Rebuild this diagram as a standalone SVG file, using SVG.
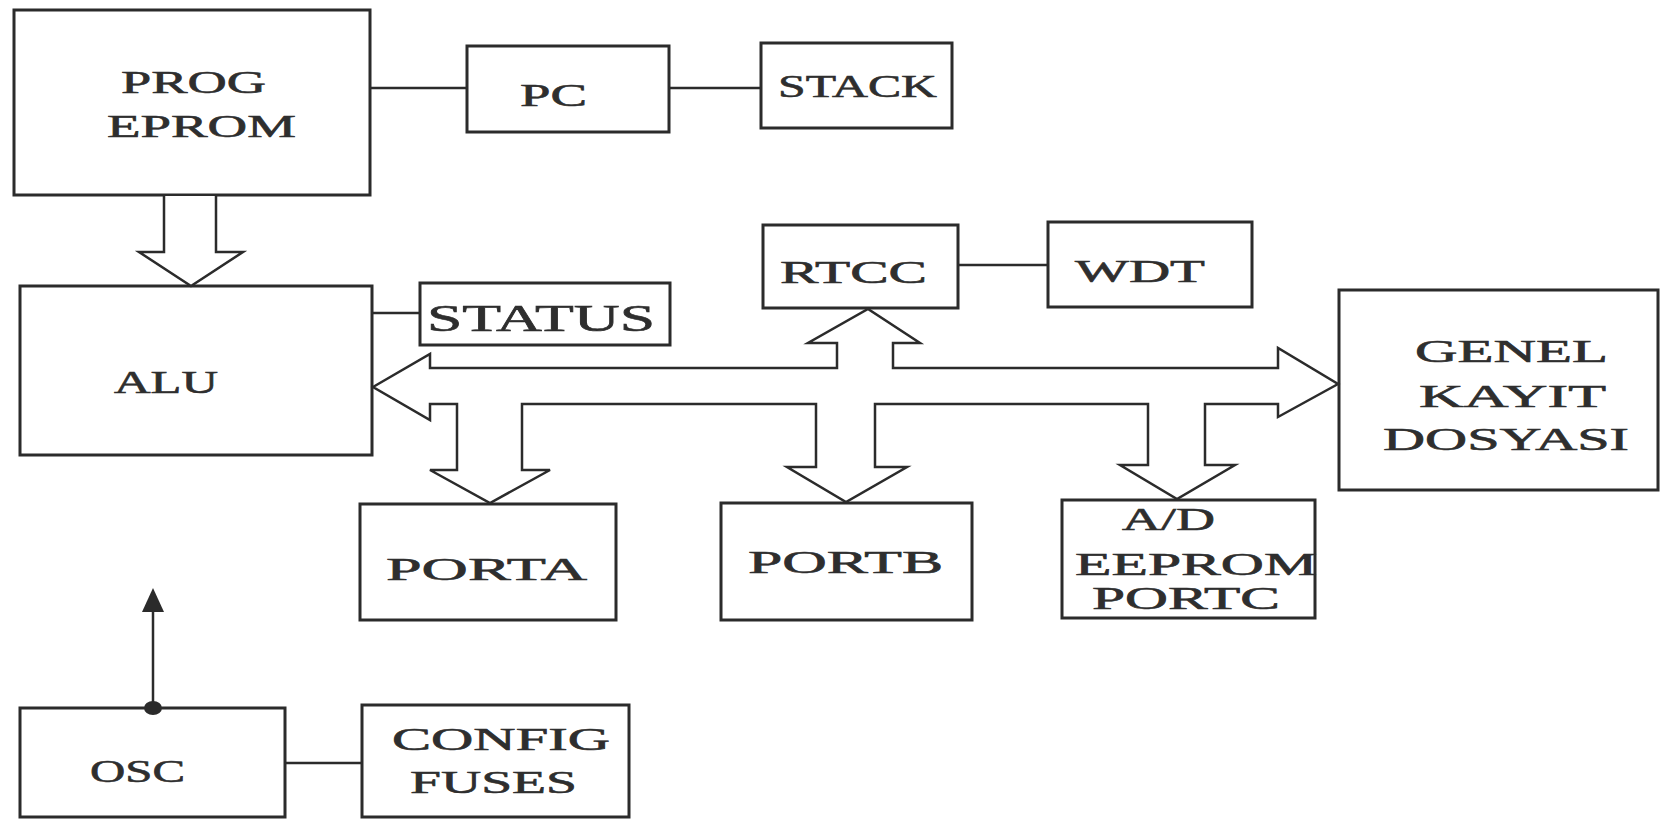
<svg xmlns="http://www.w3.org/2000/svg" width="1660" height="821" viewBox="0 0 1660 821">
<style>
.box{fill:#fff;stroke:#2b2b2b;stroke-width:3}
.ln{fill:none;stroke:#2b2b2b;stroke-width:2.5}
.bus{fill:#fff;stroke:#2b2b2b;stroke-width:2.5;stroke-linejoin:miter}
.t{font-family:"Liberation Serif","Times New Roman",serif;font-size:32px;fill:#2e2e2e;stroke:#2e2e2e;stroke-width:0.6}
</style>
<rect width="1660" height="821" fill="#fff"/>
<g id="prog-eprom"><rect class="box" x="14" y="10" width="356" height="185"/>
<text class="t" x="121" y="93" textLength="145" lengthAdjust="spacingAndGlyphs">PROG</text>
<text class="t" x="107" y="137" textLength="189" lengthAdjust="spacingAndGlyphs">EPROM</text></g>
<g id="pc"><rect class="box" x="467" y="46" width="202" height="86"/>
<text class="t" x="520" y="106" textLength="67" lengthAdjust="spacingAndGlyphs">PC</text></g>
<g id="stack"><rect class="box" x="761" y="43" width="191" height="85"/>
<text class="t" x="778" y="97" textLength="159" lengthAdjust="spacingAndGlyphs">STACK</text></g>
<g id="alu"><rect class="box" x="20" y="286" width="352" height="169"/>
<text class="t" x="114" y="393" textLength="104" lengthAdjust="spacingAndGlyphs">ALU</text></g>
<g id="status"><rect class="box" x="420" y="283" width="250" height="62"/>
<text class="t" x="427" y="331" style="font-size:38px" textLength="228" lengthAdjust="spacingAndGlyphs">STATUS</text></g>
<g id="rtcc"><rect class="box" x="763" y="225" width="195" height="83"/>
<text class="t" x="780" y="283" textLength="147" lengthAdjust="spacingAndGlyphs">RTCC</text></g>
<g id="wdt"><rect class="box" x="1048" y="222" width="204" height="85"/>
<text class="t" x="1075" y="282" textLength="130" lengthAdjust="spacingAndGlyphs">WDT</text></g>
<g id="genel-kayit"><rect class="box" x="1339" y="290" width="319" height="200"/>
<text class="t" x="1415" y="362" textLength="193" lengthAdjust="spacingAndGlyphs">GENEL</text>
<text class="t" x="1419" y="407" textLength="187" lengthAdjust="spacingAndGlyphs">KAYIT</text>
<text class="t" x="1383" y="450" textLength="246" lengthAdjust="spacingAndGlyphs">DOSYASI</text></g>
<g id="porta"><rect class="box" x="360" y="504" width="256" height="116"/>
<text class="t" x="386" y="580" textLength="201" lengthAdjust="spacingAndGlyphs">PORTA</text></g>
<g id="portb"><rect class="box" x="721" y="503" width="251" height="117"/>
<text class="t" x="748" y="573" textLength="195" lengthAdjust="spacingAndGlyphs">PORTB</text></g>
<g id="ad-eeprom-portc"><rect class="box" x="1062" y="500" width="253" height="118"/>
<text class="t" x="1122" y="530" textLength="93" lengthAdjust="spacingAndGlyphs">A/D</text>
<text class="t" x="1075" y="575" textLength="242" lengthAdjust="spacingAndGlyphs">EEPROM</text>
<text class="t" x="1092" y="609" textLength="188" lengthAdjust="spacingAndGlyphs">PORTC</text></g>
<g id="osc"><rect class="box" x="20" y="708" width="265" height="109"/>
<text class="t" x="90" y="782" textLength="95" lengthAdjust="spacingAndGlyphs">OSC</text></g>
<g id="config-fuses"><rect class="box" x="362" y="705" width="267" height="112"/>
<text class="t" x="392" y="750" textLength="218" lengthAdjust="spacingAndGlyphs">CONFIG</text>
<text class="t" x="410" y="793" textLength="167" lengthAdjust="spacingAndGlyphs">FUSES</text></g>
<g id="connectors">
<line class="ln" x1="370" y1="88" x2="467" y2="88"/>
<line class="ln" x1="669" y1="88" x2="761" y2="88"/>
<line class="ln" x1="372" y1="313" x2="420" y2="313"/>
<line class="ln" x1="958" y1="265" x2="1048" y2="265"/>
<line class="ln" x1="285" y1="763" x2="362" y2="763"/>
<path class="bus" d="M164,196 L164,252 L139,252 L191,286 L243,252 L216,252 L216,196"/>
<path class="bus" d="M373,387 L430,354 L430,368 L837,368 L837,343 L808,343 L868,309 L920,343 L893,343 L893,368 L1278,368 L1278,348 L1338,384 L1278,417 L1278,404 L1205,404 L1205,465 L1235,465 L1177,499 L1120,465 L1148,465 L1148,404 L875,404 L875,467 L907,467 L846,502 L787,467 L816,467 L816,404 L522,404 L522,470 L550,470 L490,503 L430,470 L457,470 L457,404 L430,404 L430,420 Z"/>
<line class="ln" x1="153" y1="708" x2="153" y2="606"/>
<polygon points="153,588 142,612 164,612" fill="#2b2b2b"/>
<ellipse cx="153" cy="708" rx="9" ry="7" fill="#2b2b2b"/>
</g>
</svg>
